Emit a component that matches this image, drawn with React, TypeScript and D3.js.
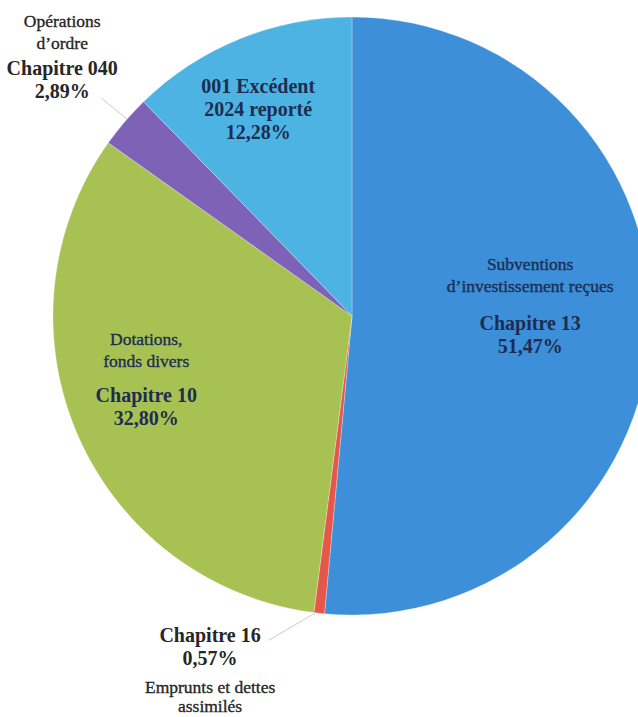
import * as d3 from "d3";
import { useEffect, useRef } from "react";

const width = 638;
const height = 717;

// slices, clockwise from 12 o'clock
const chapters = ["Chapitre 13", "Chapitre 16", "Chapitre 10", "Chapitre 040", "001"];
const shares = [51.47, 0.57, 32.8, 2.89, 12.28];
const sliceColors = ["#3c8fd8", "#e5574a", "#a7c153", "#7d62b8", "#4db3e2"];

// label text blocks (light lines above / below the bold ones)
const topLines = [
  ["Subventions", "d\u2019investissement reçues"],
  [],
  ["Dotations,", "fonds divers"],
  ["Opérations", "d\u2019ordre"],
  [],
];
const boldLines = [
  ["Chapitre 13", "51,47%"],
  ["Chapitre 16", "0,57%"],
  ["Chapitre 10", "32,80%"],
  ["Chapitre 040", "2,89%"],
  ["001 Excédent", "2024 reporté", "12,28%"],
];
const bottomLines = [[], ["Emprunts et dettes", "assimilés"], [], [], []];

// label placement: angle (deg, clockwise from top), radius as a fraction of R, gap before the bold block
const labelPos = [
  { a: 86.5, r: 0.597, inside: true, join: 38 },
  { a: 201.8, r: 1.278, inside: false, join: 28 },
  { a: 252.9, r: 0.72, inside: true, join: 35 },
  { a: 311.8, r: 1.30, inside: false, join: 26 },
  { a: 335.5, r: 0.757, inside: true, join: 0 },
];
const leaders: ({ a0: number; r0: number; a1: number; r1: number } | null)[] = [
  null,
  { a0: 187, r0: 1.0, a1: 194.4, r1: 1.12 },
  null,
  { a0: 311.2, r0: 1.0, a1: 311, r1: 1.11 },
  null,
];

const cx = 352;
const cy = 316;
const R = 299;
const font = "'Liberation Serif', 'DejaVu Serif', serif";

function polar(aDeg: number, r: number): [number, number] {
  const a = (aDeg * Math.PI) / 180;
  return [cx + r * Math.sin(a), cy - r * Math.cos(a)];
}

export default function App() {
  const ref = useRef<SVGSVGElement | null>(null);

  useEffect(() => {
    const svg = d3.select(ref.current);
    svg.selectAll("*").remove();

    const data = chapters.map((c, i) => ({ name: c, value: shares[i], i }));
    const pie = d3
      .pie<{ name: string; value: number; i: number }>()
      .sort(null)
      .value((d) => d.value)
      .startAngle(0)
      .endAngle(2 * Math.PI);
    const arc = d3.arc<d3.PieArcDatum<{ name: string; value: number; i: number }>>().innerRadius(0).outerRadius(R);

    const g = svg.append("g").attr("transform", `translate(${cx},${cy})`);
    g.selectAll("path")
      .data(pie(data))
      .enter()
      .append("path")
      .attr("d", arc)
      .style("fill", (d) => sliceColors[d.data.i])
      .style("stroke", "rgba(255,255,255,0.35)")
      .style("stroke-width", 0.8);

    // leader lines
    leaders.forEach((l) => {
      if (!l) return;
      const [x0, y0] = polar(l.a0, l.r0 * R);
      const [x1, y1] = polar(l.a1, l.r1 * R);
      svg
        .append("line")
        .attr("x1", x0)
        .attr("y1", y0)
        .attr("x2", x1)
        .attr("y2", y1)
        .style("stroke", "#c8ccd0")
        .style("stroke-width", 1);
    });

    // labels
    chapters.forEach((_, i) => {
      const p = labelPos[i];
      const [lx, ly] = polar(p.a, p.r * R);
      const color = p.inside ? "#1d2d52" : "#262626";
      const rows: { t: string; bold: boolean; gap: number }[] = [];
      topLines[i].forEach((t) => rows.push({ t, bold: false, gap: 22 }));
      boldLines[i].forEach((t, k) => rows.push({ t, bold: true, gap: k === 0 && rows.length ? p.join : 23 }));
      bottomLines[i].forEach((t, k) => rows.push({ t, bold: false, gap: k === 0 ? 28 : 19 }));

      let y = 0;
      const ys = rows.map((r, k) => {
        if (k > 0) y += r.gap;
        return y;
      });
      const total = y;
      const text = svg
        .append("text")
        .attr("text-anchor", "middle")
        .style("font-family", font)
        .style("fill", color);
      rows.forEach((r, k) => {
        text
          .append("tspan")
          .attr("x", lx)
          .attr("y", ly - total / 2 + ys[k] + 6)
          .style("font-size", r.bold ? "20px" : "17.5px")
          .style("font-weight", r.bold ? "bold" : "normal")
          .style("stroke", r.bold ? "none" : color)
          .style("stroke-width", 0.35)
          .text(r.t);
      });
    });
  }, []);

  return (
    <svg
      ref={ref}
      width={width}
      height={height}
      style={{ position: "absolute", left: 0, top: 0, background: "#ffffff" }}
    />
  );
}
